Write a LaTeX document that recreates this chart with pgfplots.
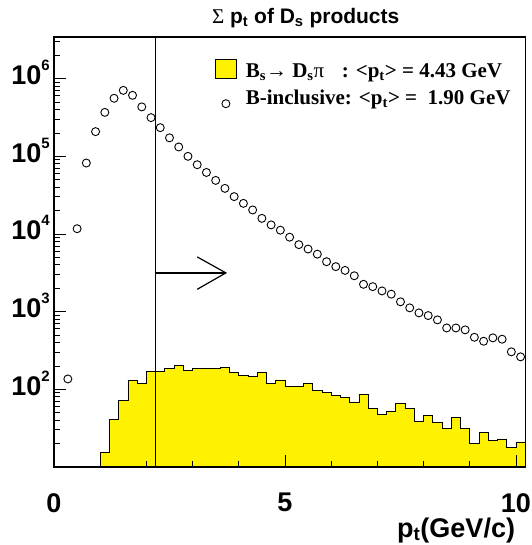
\documentclass[border=0pt]{standalone}
\usepackage{fontspec}
\setmainfont{Liberation Sans}
\newfontfamily\tnr{Liberation Serif}
\usepackage{pgfplots}
\usepackage{pgfplotstable}
\pgfplotsset{compat=1.18}

\pgfplotstableread{
x y
1.0 15.2
1.2 40.8
1.4 71.8
1.6 131
1.8 119
2.0 168
2.2 171
2.4 184
2.6 202
2.8 175
3.0 185
3.2 187
3.4 187
3.6 189
3.8 163
4.0 152
4.2 147
4.4 166
4.6 119
4.8 132
5.0 110
5.2 108
5.4 121
5.6 97
5.8 92
6.0 84
6.2 78
6.4 67
6.6 86
6.8 57
7.0 48
7.2 52
7.4 66
7.6 56
7.8 39
8.0 46
8.2 37
8.4 31
8.6 43
8.8 31
9.0 20
9.2 28
9.4 22
9.6 23
9.8 18
10.0 21
10.2 21
}\hist

\pgfplotstableread{
x y
0.3 136
0.5 11700
0.7 82000
0.9 208000
1.1 368000
1.3 559000
1.5 707000
1.7 610000
1.9 433000
2.1 315000
2.3 234000
2.5 173000
2.7 132000
2.9 100000
3.1 78000
3.3 62000
3.5 49000
3.7 38700
3.9 30300
4.1 24800
4.3 20400
4.5 15900
4.7 13100
4.9 11200
5.1 9100
5.3 7300
5.5 6400
5.7 5500
5.9 4400
6.1 3800
6.3 3400
6.5 2900
6.7 2250
6.9 2100
7.1 1850
7.3 1680
7.5 1340
7.7 1120
7.9 964
8.1 891
8.3 784
8.5 617
8.7 617
8.9 583
9.1 468
9.3 416
9.5 460
9.7 442
9.9 304
10.1 262
}\incl

\newcommand\tl[1]{10\raisebox{14pt}{\fontsize{15}{15}\selectfont #1}}

\begin{document}
\begin{tikzpicture}[x=1pt,y=1pt]
\path[use as bounding box] (0,0) rectangle (531,545);
\begin{axis}[
  at={(54pt,78pt)}, anchor=south west,
  scale only axis, width=471.2pt, height=430pt,
  xmin=0, xmax=10.2, ymode=log, ymin=10, ymax=3.44e6,
  xtick={0,5,10}, xticklabels={0,5,10},
  minor xtick={1,2,3,4,6,7,8,9},
  ytick={100,1000,10000,100000,1000000},
  yticklabels={\tl{2},\tl{3},\tl{4},\tl{5},\tl{6}},
  minor ytick={20,30,40,50,60,70,80,90,200,300,400,500,600,700,800,900,2000,3000,4000,5000,6000,7000,8000,9000,20000,30000,40000,50000,60000,70000,80000,90000,200000,300000,400000,500000,600000,700000,800000,900000,2000000,3000000},
  xtick pos=bottom, ytick pos=left, tick align=inside,
  major tick length=12pt, minor tick length=6pt,
  axis line style={line width=1.2pt},
  every tick/.style={line width=0.9pt, black},
  tick label style={font=\fontsize{27}{27}\selectfont\bfseries},
  xticklabel style={inner sep=0pt, anchor=north, yshift=-26pt},
  yticklabel style={inner sep=0pt, anchor=base east, xshift=-4pt, yshift=-6pt},
  axis on top,
  xlabel={p\textsubscript{t}(GeV/c)},
  xlabel style={at={(rel axis cs:1,0)}, anchor=base east, inner sep=0pt, yshift=-70pt, xshift=-10pt, font=\fontsize{27}{27}\selectfont\bfseries},
  title={{\tnr\mdseries Σ} p\textsubscript{t} of D\textsubscript{s} products},
  title style={at={(rel axis cs:0.335,1)}, anchor=base west, inner sep=0pt, yshift=7.7pt, font=\fontsize{21}{21}\selectfont\bfseries},
  legend cell align=left,
  legend style={at={(rel axis cs:0.3417,0.9488)}, anchor=north west, draw=none, fill=none,
    inner sep=0pt, outer sep=0pt, row sep=3.3pt,
    font=\tnr\bfseries\fontsize{21}{21}\selectfont,
    nodes={inner sep=0pt, outer sep=0pt, text height=18pt, text depth=6pt, anchor=base west},
    /tikz/every odd column/.append style={column sep=9pt}},
]
\addplot[const plot, fill=yellow, draw=black, line width=0.8pt,
  legend image code/.code={\draw[fill=yellow,draw=black,line width=0.8pt] (0pt,-1.3pt) rectangle (21pt,17.7pt);}]
  table[x=x,y=y]{\hist} \closedcycle;
\addlegendentry{\makebox[96pt][l]{B\textsubscript{s}{\mdseries →} D\textsubscript{s}{\mdseries π}}: <p\textsubscript{t}> = 4.43 GeV}
\addplot[only marks, mark=o, mark size=4pt, mark options={line width=0.9pt, black},
  legend image code/.code={\draw[black,line width=0.9pt,mark=o,mark size=4pt,only marks] plot coordinates {(10.5pt,0.7pt)};}]
  table[x=x,y=y]{\incl};
\addlegendentry{B-inclusive: <p\textsubscript{t}> =\ \ 1.90 GeV}
\draw[line width=1.2pt] (axis cs:2.2,10) -- (axis cs:2.2,3.44e6);
\draw[line width=1.2pt] (axis cs:2.2,3155) -- (axis cs:3.72,3155);
\draw[line width=1.2pt] (axis cs:3.10,5070) -- (axis cs:3.72,3155) -- (axis cs:3.10,1941);
\end{axis}
\end{tikzpicture}
\end{document}
